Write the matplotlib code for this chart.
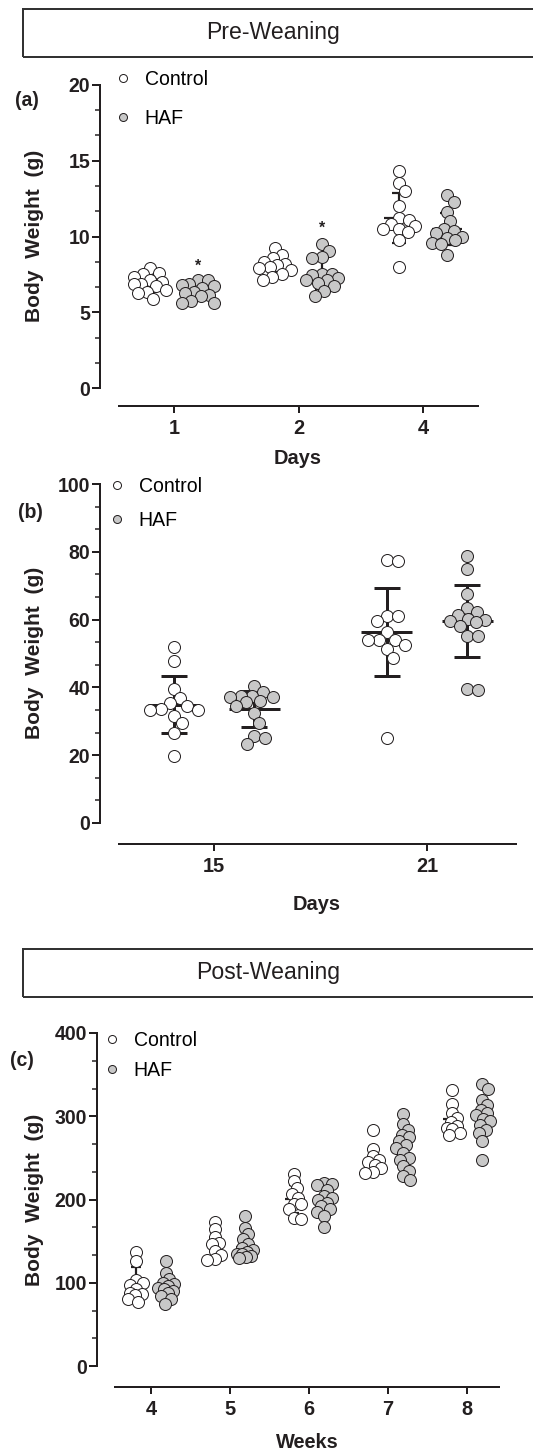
import numpy as np
import matplotlib
matplotlib.use("Agg")
import matplotlib.pyplot as plt
from matplotlib.lines import Line2D
from matplotlib.patches import Rectangle
from matplotlib.ticker import AutoMinorLocator, MultipleLocator

plt.rcParams['font.family'] = ['Liberation Sans', 'DejaVu Sans']

W, H = 533, 1454
DPI = 72
INK = '#231f20'
GREY = '#c8c8c8'

# ---------------- data ----------------
# (a) pre-weaning, days 1-4
days_a = ["1", "2", "4"]
ctrl_a = [[7.9, 7.6, 7.5, 7.35, 7.1, 7.0, 6.85, 6.85, 6.7, 6.5, 6.35, 6.3, 5.85],
          [9.25, 8.8, 8.55, 8.3, 8.2, 8.1, 8.0, 7.9, 7.8, 7.55, 7.35, 7.15],
          [14.35, 13.5, 13.0, 12.0, 11.2, 11.1, 10.85, 10.7, 10.5, 10.5, 10.3, 9.75, 8.0]]
haf_a = [[7.15, 7.1, 6.85, 6.8, 6.7, 6.6, 6.35, 6.25, 6.15, 6.05, 5.75, 5.6, 5.6],
         [9.5, 9.05, 8.65, 8.6, 7.5, 7.5, 7.45, 7.25, 7.15, 7.1, 6.9, 6.7, 6.4, 6.05],
         [12.75, 12.3, 11.6, 11.0, 10.5, 10.35, 10.2, 10.0, 9.9, 9.8, 9.6, 9.5, 8.75]]
ctrl_a_mean = [6.95, 8.1, 11.25]
ctrl_a_sd = [0.6, 0.5, 1.65]
haf_a_mean = [6.35, 7.55, 10.5]
haf_a_sd = [0.5, 1.0, 1.07]
star_a_idx = [0, 1]
star_a_y = [8.05, 10.55]

# (b) pre-weaning, days 15 and 21
days_b = ["15", "21"]
ctrl_b = [[51.8, 47.9, 39.5, 36.9, 35.4, 34.4, 33.6, 33.4, 33.4, 31.5, 29.5, 26.5, 19.7],
          [77.7, 77.4, 61.2, 61.0, 59.5, 56.2, 54.1, 53.9, 53.9, 52.6, 51.3, 48.7, 25.1]]
haf_b = [[40.5, 38.5, 37.4, 37.4, 37.2, 37.2, 35.9, 35.6, 34.6, 32.4, 29.5, 25.6, 25.1, 23.3],
         [78.7, 75.0, 67.6, 63.4, 62.1, 61.5, 60.2, 59.8, 59.5, 59.2, 58.0, 55.1, 55.1, 39.5, 39.3]]
ctrl_b_mean = [34.9, 56.3]
ctrl_b_sd = [8.4, 13.0]
haf_b_mean = [33.6, 59.6]
haf_b_sd = [5.4, 10.6]

# (c) post-weaning, weeks 4-8
weeks_c = ["4", "5", "6", "7", "8"]
ctrl_c = [[136.5, 126, 103, 100, 97, 92, 88, 87, 85, 80, 77],
          [173, 164, 155, 148, 146, 138, 133, 128, 127],
          [231, 222, 214, 207, 202, 195, 194, 188, 178, 176],
          [283, 261, 252, 248, 245, 242, 238, 233, 232],
          [331, 315, 304, 298, 293, 288, 286, 285, 280, 277]]
haf_c = [[126, 112, 104, 100, 98, 96, 94, 92, 90, 88, 84, 80, 75],
         [180, 166, 158, 152, 146, 142, 139, 137, 135, 134, 132, 131, 130],
         [220, 219, 217, 212, 204, 202, 199, 196, 192, 188, 185, 180, 167],
         [303, 291, 284, 278, 275, 270, 266, 262, 256, 250, 248, 240, 234, 228, 224],
         [339, 333, 320, 313, 308, 304, 301, 297, 294, 289, 284, 280, 270, 247]]
ctrl_c_mean = [99, 145.5, 201, 248, 297]
ctrl_c_sd = [20, 16, 17, 15, 17]
haf_c_mean = [94, 143.5, 197.5, 262.5, 297]
haf_c_sd = [14, 14, 15, 24, 24]

MS = 12   # marker diameter, px (= pt at 72 dpi)


def swarm(vals, px_per_unit, k, max_off, step=0.5):
    """simple beeswarm: horizontal offsets in px so circles don't pile up"""
    ys = np.asarray(vals, float) * px_per_unit
    offs = np.zeros(len(ys))
    placed = []
    cands = [0.0]
    j = 1
    while j * step <= max_off:
        cands += [j * step, -j * step]
        j += 1
    for i in np.argsort(-ys):
        best, best_d = 0.0, -1
        for c in cands:
            if not placed:
                best = c
                break
            d = min(np.hypot(c - ox, ys[i] - oy) for ox, oy in placed)
            if d >= k * MS:
                best = c
                break
            if d > best_d:
                best, best_d = c, d
        offs[i] = best
        placed.append((best, ys[i]))
    return offs


def panel(fig, L, R, T, B, cat0, sp, xstart, drop, ymax, ystep, cats,
          ctrl, haf, cm, csd, hm, hsd, k, max_off, lw):
    ax = fig.add_axes([L / W, 1 - B / H, (R - L) / W, (B - T) / H])
    n = len(cats)
    x = np.arange(n)
    ax.set_xlim((L - cat0) / sp, (R - cat0) / sp)
    ax.set_ylim(0, ymax)
    ppu = (B - T) / ymax
    dx = 0.19

    for grp, means, sds, fc, sgn in [(ctrl, cm, csd, 'white', -1),
                                     (haf, hm, hsd, GREY, 1)]:
        xc = x + sgn * dx
        ax.errorbar(xc, means, yerr=sds, fmt='none', ecolor=INK, elinewidth=lw,
                    capsize=0.06 * sp, capthick=lw, zorder=2, clip_on=False)
        ax.hlines(means, xc - 0.12, xc + 0.12, color=INK, lw=lw, zorder=2)
        for i, vals in enumerate(grp):
            off = swarm(vals, ppu, k, max_off) / sp
            ax.scatter(xc[i] + off, vals, s=MS ** 2, facecolor=fc, edgecolor=INK,
                       linewidth=1.0, zorder=3, clip_on=False)

    for s in ['top', 'right']:
        ax.spines[s].set_visible(False)
    for s in ['left', 'bottom']:
        ax.spines[s].set_linewidth(2)
        ax.spines[s].set_color(INK)
    ax.spines['left'].set_bounds(0, ymax)
    ax.spines['bottom'].set_position(('outward', drop))
    ax.spines['bottom'].set_bounds((xstart - cat0) / sp, (R - cat0) / sp)

    ax.set_xticks(x)
    ax.set_xticklabels(cats)
    ax.yaxis.set_major_locator(MultipleLocator(ystep))
    ax.yaxis.set_minor_locator(AutoMinorLocator(3))
    ax.tick_params(axis='y', which='major', length=8, width=2, pad=2,
                   labelsize=19.5, color=INK, labelcolor=INK)
    ax.tick_params(axis='y', which='minor', length=5, width=1.5, color=INK)
    ax.tick_params(axis='x', length=7, width=2, pad=6, labelsize=20,
                   color=INK, labelcolor=INK)
    for t in ax.get_xticklabels() + ax.get_yticklabels():
        t.set_fontweight('bold')
    ax.patch.set_alpha(0)
    return ax


def legend(ax, fig, xl, ytop, spacing):
    h = [Line2D([], [], marker='o', ls='none', ms=8, mfc='white', mec=INK, mew=1),
         Line2D([], [], marker='o', ls='none', ms=8, mfc=GREY, mec=INK, mew=1)]
    ax.legend(h, ['Control', 'HAF'], loc='upper left',
              bbox_to_anchor=(xl / W, 1 - ytop / H), bbox_transform=fig.transFigure,
              frameon=False, fontsize=19.5, handlelength=1.0, handletextpad=0.6,
              borderpad=0, borderaxespad=0, labelspacing=spacing)


def xlabel(ax, text, xc_px, yc_px, L, R, T, B):
    ax.set_xlabel(text, fontsize=20, fontweight='bold', color=INK, va='center')
    ax.xaxis.set_label_coords((xc_px - L) / (R - L), -(yc_px - B) / (B - T))


fig = plt.figure(figsize=(W / DPI, H / DPI), dpi=DPI)

# section boxes
for ytop, ybot, txt, tx in [(9, 57, 'Pre-Weaning', 273), (949, 997, 'Post-Weaning', 268)]:
    fig.add_artist(Rectangle((23 / W, 1 - ybot / H), 1.2, (ybot - ytop) / H,
                             transform=fig.transFigure, fill=False, lw=2, ec='#333333'))
    fig.text(tx / W, 1 - (ytop + ybot) / 2 / H, txt, ha='center', va='center',
             fontsize=23, color=INK)

# (a)
axa = panel(fig, 100, 478, 85, 388, 174, 124.5, 119, 18, 20, 5, days_a,
            ctrl_a, haf_a, ctrl_a_mean, ctrl_a_sd, haf_a_mean, haf_a_sd,
            k=0.8, max_off=16, lw=2.2)
for i, yv in zip(star_a_idx, star_a_y):
    axa.text(i + 0.19, yv, '*', ha='center', va='center', fontsize=16,
             fontweight='bold', color=INK)
legend(axa, fig, 113.5, 70, 1.0)
xlabel(axa, 'Days', 298, 458, 100, 478, 85, 388)

# (b)
axb = panel(fig, 100, 516, 484, 823, 214, 213, 119, 21, 100, 20, days_b,
            ctrl_b, haf_b, ctrl_b_mean, ctrl_b_sd, haf_b_mean, haf_b_sd,
            k=0.9, max_off=24, lw=3)
legend(axb, fig, 107.5, 477, 0.75)
xlabel(axb, 'Days', 317, 905, 100, 516, 484, 823)

# (c)
axc = panel(fig, 97, 499, 1033, 1366, 151, 79, 115, 21, 400, 100, weeks_c,
            ctrl_c, haf_c, ctrl_c_mean, ctrl_c_sd, haf_c_mean, haf_c_sd,
            k=0.6, max_off=8, lw=2.2)
legend(axc, fig, 102.5, 1031, 0.55)
xlabel(axc, 'Weeks', 307, 1443, 97, 499, 1033, 1366)

# y labels and panel letters
for yc, letter, lx, ly in [(236, '(a)', 27, 100), (653, '(b)', 30, 513), (1200, '(c)', 22, 1060)]:
    fig.text(35 / W, 1 - yc / H, 'Body  Weight  (g)', rotation=90, ha='center',
             va='center', fontsize=21, fontweight='bold', color=INK)
    fig.text(lx / W, 1 - ly / H, letter, ha='center', va='center', fontsize=19.5,
             fontweight='bold', color=INK)

fig.savefig('out.png', dpi=DPI)
